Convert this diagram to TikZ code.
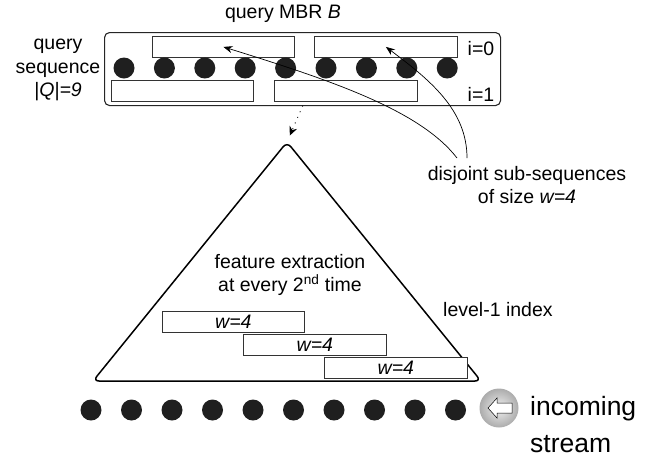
\documentclass[tikz,border=0pt]{standalone}
\usepackage{fontspec}
\setmainfont{Liberation Sans}
\usetikzlibrary{arrows.meta}
\begin{document}
\begin{tikzpicture}[x=1pt,y=-1pt,
  txt/.style={font=\fontsize{19.5}{23.5}\selectfont, inner sep=0pt, align=center},
  bigtxt/.style={font=\fontsize{26.5}{32}\selectfont, inner sep=0pt, anchor=base west},
  seg/.style={draw=black!80, line width=0.8pt, fill=white, minimum height=21pt,
    inner sep=0pt, anchor=north west, font=\fontsize{19.5}{23.5}\selectfont\itshape},
  dot/.style={circle, fill=black!88, minimum size=21pt, inner sep=0pt},
  ptr/.style={-{Stealth[length=9pt,width=7pt]}, line width=0.7pt},
]
\useasboundingbox (0,0) rectangle (661,459);

% query MBR box
\node[draw=black!85, line width=1.1pt, rounded corners=5pt, minimum width=396pt,
  minimum height=73pt, anchor=north west, inner sep=0pt] (box) at (104,32) {};
\node[txt] (title) at (283,14) {query MBR \textit{B}};
\node[txt] (qlab) at (58,70) {query\\sequence\\\textit{|Q|=9}};
\node[txt] (i0) at (481,49) {i=0};
\node[txt] (i1) at (481,94) {i=1};

% sub-sequence rectangles
\node[seg, minimum width=142pt] (r0a) at (152,36) {};
\node[seg, minimum width=143pt] (r0b) at (314,36) {};
\node[seg, minimum width=142pt] (r1a) at (111,80) {};
\node[seg, minimum width=143pt] (r1b) at (274,80) {};

% query sequence points
\foreach \i in {0,...,8} {
  \node[dot] (q\i) at ({124+40.4*\i},68) {};
}

% annotation
\node[txt] (disj) at (527,185) {disjoint sub-sequences\\of size \textit{w=4}};
\coordinate (s1) at (457,158);
\coordinate (s2) at (467,158);
\draw[ptr] (s1) .. controls (420,110) and (330,80) .. (r0a.center);
\draw[ptr] (s2) .. controls (467,110) and (430,80) .. (r0b.center);

% level-1 index triangle
\coordinate (apex) at (287,142);
\coordinate (bl) at (93,381);
\coordinate (br) at (481,381);
\draw[line width=1.5pt, rounded corners=6pt] (bl) -- (apex) -- (br) -- cycle;
\draw[line width=1.2pt, line cap=round, dash pattern=on 0.1pt off 6pt,
  -{Stealth[length=9pt,width=8pt]}, shorten >=7pt] (box.south) -- (apex);
\node[txt] (feat) at (290,275) {feature extraction\\at every 2\textsuperscript{nd} time};
\node[txt, anchor=west] (lvl) at (443,310) {level-1 index};
\node[seg, minimum width=142pt] (w1) at (162,311) {w=4};
\node[seg, minimum width=143pt] (w2) at (243,334) {w=4};
\node[seg, minimum width=143pt] (w3) at (324,357) {w=4};

% incoming stream
\foreach \i in {0,...,9} {
  \node[dot] (p\i) at ({91+40.5*\i},410) {};
}
\node[circle, minimum size=39pt, inner sep=0pt, shade, inner color=gray!12,
  outer color=gray!65] (btn) at (499,408) {};
\draw[fill=white, line width=0.5pt]
  ([xshift=-11pt]btn.center) -- ++(9,-10) -- ++(0,5) -- ++(15,0) -- ++(0,10)
  -- ++(-15,0) -- ++(0,5) -- cycle;
\node[bigtxt] (inc) at (530,415) {incoming};
\node[bigtxt] (str) at (530,452) {stream};
\end{tikzpicture}
\end{document}
